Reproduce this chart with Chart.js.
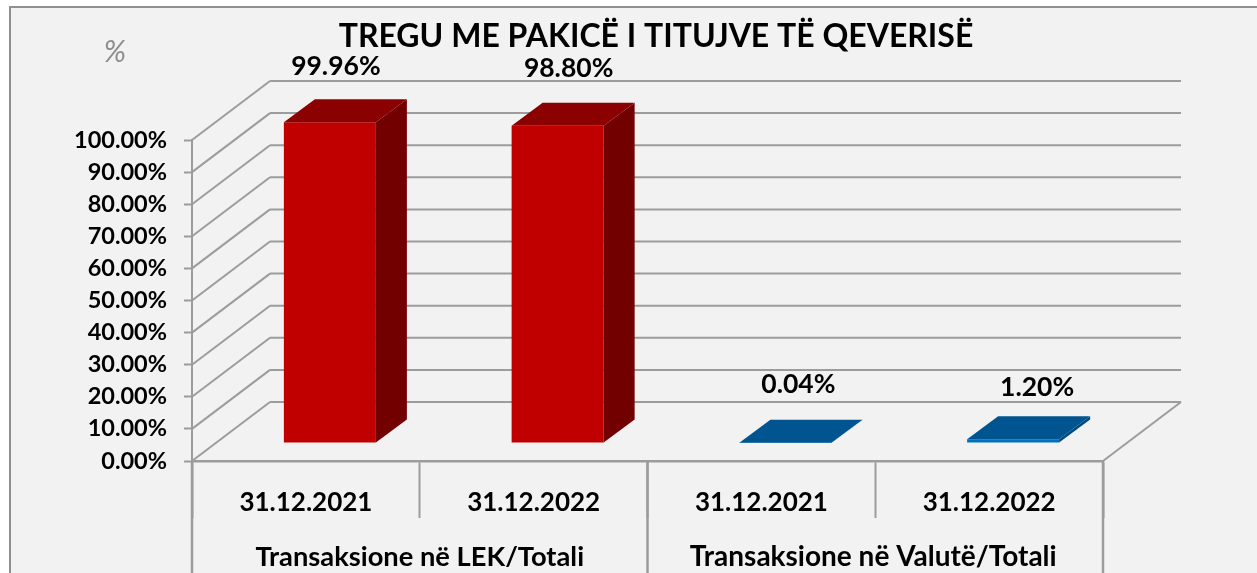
<!DOCTYPE html>
<html><head><meta charset="utf-8">
<style>html,body{margin:0;padding:0;background:#fff;overflow:hidden}canvas{display:block}</style>
<script src="https://cdn.jsdelivr.net/npm/chart.js@4"></script>
</head><body><canvas id="c" width="1257" height="573"></canvas>
<script>
const categories = ['31.12.2021','31.12.2022','31.12.2021','31.12.2022'];
const groups = ['Transaksione në LEK/Totali','Transaksione në Valutë/Totali'];
const values = [99.96,98.80,0.04,1.20];
const valueLabels = ['99.96%','98.80%','0.04%','1.20%'];
const titleText = 'TREGU ME PAKICË I TITUJVE TË QEVERISË';
const unitText = '%';
const yTicks = [0,10,20,30,40,50,60,70,80,90,100];

const FONT = 'Lato, Carlito, Calibri, sans-serif';
const GRID = '#9c9c9c';
const wall = {dx:78, dy:-59};
const barShift = {dx:24, dy:-18};
const barDepth = {dx:31, dy:-23};
const faces = [
  {front:'#C00000', top:'#8B0000', side:'#730000'},
  {front:'#C00000', top:'#8B0000', side:'#730000'},
  {front:'#0070C0', top:'#005590', side:'#004A80'},
  {front:'#0070C0', top:'#005590', side:'#004A80'}
];
const labelOffsets = [{dx:6,dy:-56},{dx:11,dy:-57},{dx:13,dy:-58},{dx:24,dy:-52}];
const groupFontSizes = [27.3,28];

function poly(ctx, pts, fill){
  ctx.beginPath();
  pts.forEach((p,i)=> i?ctx.lineTo(p[0],p[1]):ctx.moveTo(p[0],p[1]));
  ctx.closePath();
  ctx.fillStyle = fill; ctx.fill();
}
function line(ctx,x1,y1,x2,y2,w){
  ctx.beginPath(); ctx.moveTo(x1,y1); ctx.lineTo(x2,y2);
  ctx.strokeStyle = GRID; ctx.lineWidth = w||2; ctx.stroke();
}
const scene = {
  id:'scene',
  afterLayout(chart){
    // visual centre of the title in the reference sits right of canvas centre
    chart.titleBlock.left = 55; chart.titleBlock.right = 1257;
  },
  beforeDraw(chart){
    const c = chart.ctx;
    c.save();
    c.fillStyle='#F2F2F2'; c.fillRect(10,7,1247,566);
    c.strokeStyle='#8f8f8f'; c.lineWidth=2;
    c.beginPath(); c.moveTo(10,573); c.lineTo(10,7); c.lineTo(1257,7); c.stroke();
    c.restore();
  },
  beforeDatasetsDraw(chart){
    const c = chart.ctx, {x,y} = chart.scales, a = chart.chartArea;
    c.save();
    yTicks.forEach(v=>{
      const py = y.getPixelForValue(v);
      line(c,a.left,py,a.left+wall.dx,py+wall.dy);
      line(c,a.left+wall.dx,py+wall.dy,a.right+wall.dx,py+wall.dy);
    });
    const p0 = y.getPixelForValue(0);
    line(c,a.right,p0,a.right+wall.dx,p0+wall.dy);
    // group dividers below the axis
    [a.left,(a.left+a.right)/2,a.right].forEach(px=> line(c,px,p0,px,chart.height,2.5));
    c.restore();
    c.save();
    c.translate(barShift.dx,barShift.dy);
  },
  afterDatasetsDraw(chart){
    const c = chart.ctx;
    c.restore();
    c.save();
    chart.getDatasetMeta(0).data.forEach((b,i)=>{
      const l=b.x-b.width/2+barShift.dx, r=b.x+b.width/2+barShift.dx,
            t=b.y+barShift.dy, bt=b.base+barShift.dy, d=barDepth;
      poly(c,[[r,t],[r+d.dx,t+d.dy],[r+d.dx,bt+d.dy],[r,bt]],faces[i].side);
      poly(c,[[l,t],[l+d.dx,t+d.dy],[r+d.dx,t+d.dy],[r,t]],faces[i].top);
      c.fillStyle='#000'; c.textAlign='center'; c.textBaseline='middle';
      c.font='bold 26.5px '+FONT;
      c.fillText(valueLabels[i], b.x+barShift.dx+labelOffsets[i].dx, t+labelOffsets[i].dy);
    });
    const x = chart.scales.x;
    c.fillStyle='#000';
    c.textAlign='center'; c.textBaseline='middle';
    groups.forEach((g,i)=>{
      c.font='bold '+groupFontSizes[i]+'px '+FONT;
      const cx=(x.getPixelForValue(i*2)+x.getPixelForValue(i*2+1))/2;
      c.fillText(g,cx+(i?-2:0),557);
    });
    c.font='italic 30px '+FONT; c.fillStyle='#8c8c8c';
    c.fillText(unitText,115,52);
    c.restore();
  }
};

new Chart(document.getElementById('c'),{
  type:'bar',
  data:{labels:categories,datasets:[{
    data:values,
    backgroundColor:faces.map(f=>f.front),
    barPercentage:0.404,categoryPercentage:1,clip:false
  }]},
  options:{
    responsive:false,animation:false,
    layout:{padding:{left:0,right:154,top:0,bottom:0}},
    plugins:{
      legend:{display:false},tooltip:{enabled:false},
      title:{display:true,text:titleText,color:'#000',
        font:{family:FONT,weight:'bold',size:32,lineHeight:1.2},
        padding:{top:17.5,bottom:84.1}}
    },
    scales:{
      x:{
        afterFit(s){s.height=112;},
        border:{color:GRID,width:2.5},
        grid:{display:true,offset:true,drawOnChartArea:false,drawTicks:true,tickLength:57,tickWidth:2,tickColor:GRID,color:GRID},
        ticks:{padding:-31,autoSkip:false,maxRotation:0,color:'#000',font:{family:FONT,weight:'bold',size:26}}
      },
      y:{
        min:0,max:100,
        afterFit(s){s.width=192;},
        afterBuildTicks(s){s.ticks=yTicks.map(v=>({value:v}));},
        border:{color:GRID,width:2},
        grid:{drawOnChartArea:false,tickLength:8,tickWidth:2,tickColor:GRID,color:GRID},
        ticks:{padding:17,color:'#000',font:{family:FONT,weight:'bold',size:23.5},
          callback:v=>v.toFixed(2)+'%'}
      }
    }
  },
  plugins:[scene]
});
</script></body></html>
